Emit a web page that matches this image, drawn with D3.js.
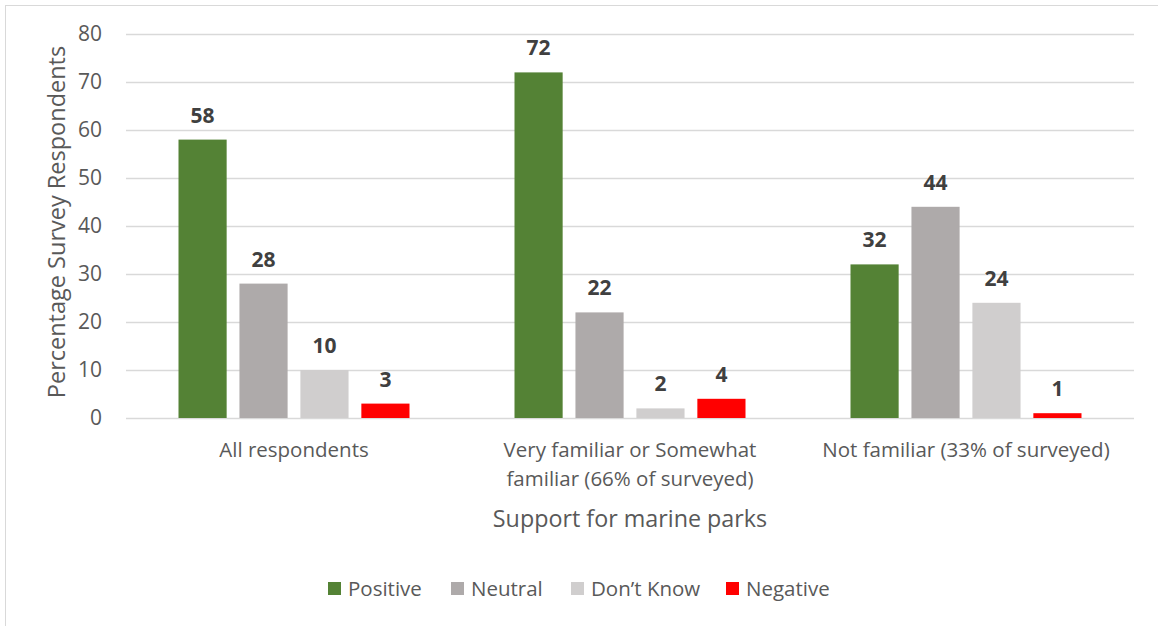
<!DOCTYPE html>
<html>
<head>
<meta charset="utf-8">
<script src="https://cdn.jsdelivr.net/npm/d3@7"></script>
<style>
  html, body { margin: 0; padding: 0; background: #fff; }
  svg { display: block; font-family: "Open Sans", "Noto Sans", sans-serif; }
</style>
</head>
<body>
<svg id="chart" width="1158" height="626"></svg>
<script>
// Survey responses: support for marine parks by familiarity group
const categories = [
  ["All respondents"],
  ["Very familiar or Somewhat", "familiar (66% of surveyed)"],
  ["Not familiar (33% of surveyed)"]
];
const seriesNames = ["Positive", "Neutral", "Don\u2019t Know", "Negative"];
const seriesColors = ["#548235", "#AEAAAA", "#D0CECE", "#FF0000"];
const positive = [58, 72, 32];
const neutral = [28, 22, 44];
const dontKnow = [10, 2, 24];
const negative = [3, 4, 1];
const yTicks = [0, 10, 20, 30, 40, 50, 60, 70, 80];

const seriesValues = [positive, neutral, dontKnow, negative];

const svg = d3.select("#chart");

// Outer chart frame
svg.append("rect")
  .attr("x", 5.5).attr("y", 5.5)
  .attr("width", 1200).attr("height", 700)
  .attr("fill", "none").attr("stroke", "#d9d9d9").attr("stroke-width", 1);

const plot = { left: 126, right: 1134, top: 34, bottom: 418 };

const y = d3.scaleLinear().domain([0, 80]).range([plot.bottom, plot.top]);
const x0 = d3.scaleBand().domain(d3.range(categories.length))
  .range([plot.left, plot.right]).paddingInner(0).paddingOuter(0);
const groupPad = 52.5;
const x1 = d3.scaleBand().domain(d3.range(seriesNames.length))
  .range([groupPad, x0.bandwidth() - groupPad]).paddingInner(0.21).paddingOuter(0);

// Gridlines and tick labels
const yAxis = d3.axisLeft(y).tickValues(yTicks).tickSize(-(plot.right - plot.left)).tickPadding(24);
const gy = svg.append("g").attr("transform", `translate(${plot.left},0)`).call(yAxis);
gy.select(".domain").remove();
gy.selectAll(".tick line").attr("stroke", "#d9d9d9").attr("stroke-width", 1.3);
gy.selectAll(".tick text")
  .attr("fill", "#595959").attr("font-size", 21)
  .attr("font-family", "'Open Sans', sans-serif");

// Bars
const groups = svg.append("g").selectAll("g")
  .data(categories.map((c, i) => i))
  .join("g")
  .attr("transform", i => `translate(${x0(i)},0)`);

groups.selectAll("rect")
  .data(i => seriesValues.map((vals, s) => ({ s, v: vals[i] })))
  .join("rect")
  .attr("x", d => x1(d.s))
  .attr("y", d => y(d.v))
  .attr("width", x1.bandwidth())
  .attr("height", d => y(0) - y(d.v))
  .attr("fill", d => seriesColors[d.s]);

// Value labels
groups.selectAll("text.val")
  .data(i => seriesValues.map((vals, s) => ({ s, v: vals[i] })))
  .join("text")
  .attr("class", "val")
  .attr("x", d => x1(d.s) + x1.bandwidth() / 2)
  .attr("y", d => y(d.v) - 17)
  .attr("text-anchor", "middle")
  .attr("font-size", 21)
  .attr("font-weight", "bold")
  .attr("fill", "#404040")
  .text(d => d.v);

// Category labels
const catG = svg.append("g");
categories.forEach((lines, i) => {
  const t = catG.append("text")
    .attr("x", x0(i) + x0.bandwidth() / 2)
    .attr("y", 457)
    .attr("text-anchor", "middle")
    .attr("font-size", 20.5)
    .attr("fill", "#595959");
  lines.forEach((ln, k) => {
    t.append("tspan")
      .attr("x", x0(i) + x0.bandwidth() / 2)
      .attr("dy", k === 0 ? 0 : 29)
      .text(ln);
  });
});

// Axis titles
svg.append("text")
  .attr("x", (plot.left + plot.right) / 2)
  .attr("y", 527)
  .attr("text-anchor", "middle")
  .attr("font-size", 23.3)
  .attr("fill", "#595959")
  .text("Support for marine parks");

svg.append("text")
  .attr("transform", `translate(65,${(plot.top + plot.bottom) / 2 - 4}) rotate(-90)`)
  .attr("text-anchor", "middle")
  .attr("font-size", 23.5)
  .attr("fill", "#595959")
  .text("Percentage Survey Respondents");

// Legend
const legendX = [328, 451, 571, 726];
const legend = svg.append("g").selectAll("g")
  .data(seriesNames.map((n, i) => i))
  .join("g")
  .attr("transform", i => `translate(${legendX[i]},582)`);
legend.append("rect")
  .attr("width", 13).attr("height", 13)
  .attr("fill", i => seriesColors[i]);
legend.append("text")
  .attr("x", 20).attr("y", 14)
  .attr("font-size", 20.5)
  .attr("fill", "#595959")
  .text(i => seriesNames[i]);
</script>
</body>
</html>
